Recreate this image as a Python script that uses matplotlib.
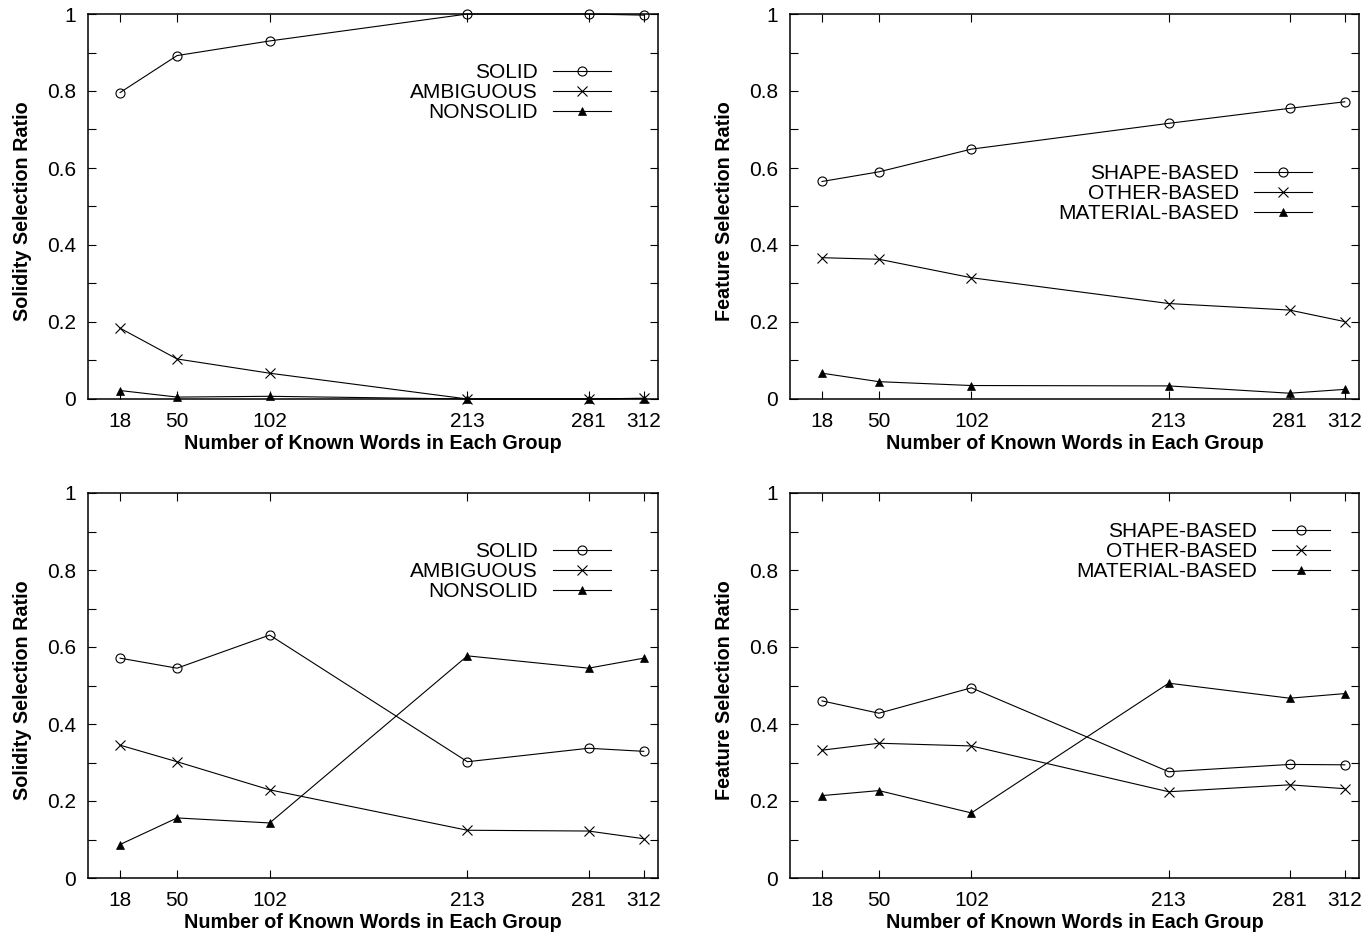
import numpy as np
import matplotlib
matplotlib.use("Agg")
import matplotlib.pyplot as plt
from matplotlib.ticker import MultipleLocator

plt.rcParams['font.family'] = ['Liberation Sans', 'DejaVu Sans']

# number of known words in each group
words = [18, 50, 102, 213, 281, 312]

# top left: solidity selection
solid_a = [0.796, 0.892, 0.930, 1.000, 1.000, 0.997]
ambig_a = [0.184, 0.104, 0.067, 0.000, 0.000, 0.002]
nonsolid_a = [0.022, 0.005, 0.007, 0.000, 0.000, 0.001]

# top right: feature selection
shape_a = [0.565, 0.590, 0.649, 0.716, 0.755, 0.772]
other_a = [0.367, 0.363, 0.315, 0.248, 0.231, 0.201]
material_a = [0.067, 0.045, 0.035, 0.034, 0.015, 0.025]

# bottom left: solidity selection
solid_b = [0.571, 0.545, 0.631, 0.302, 0.337, 0.329]
ambig_b = [0.345, 0.302, 0.229, 0.124, 0.122, 0.102]
nonsolid_b = [0.087, 0.156, 0.143, 0.577, 0.545, 0.571]

# bottom right: feature selection
shape_b = [0.460, 0.428, 0.494, 0.276, 0.295, 0.294]
other_b = [0.332, 0.350, 0.343, 0.224, 0.242, 0.232]
material_b = [0.214, 0.227, 0.169, 0.506, 0.467, 0.479]

solidity_names = ["SOLID", "AMBIGUOUS", "NONSOLID"]
feature_names = ["SHAPE-BASED", "OTHER-BASED", "MATERIAL-BASED"]

FS = 15
LFS = 14.2
W, H = 1371, 940
fig = plt.figure(figsize=(W / 100, H / 100), dpi=100)


def make_ax(left, top, right, bottom):
    return fig.add_axes([left / W, 1 - bottom / H, (right - left) / W, (bottom - top) / H])


def draw(ax, series, names, ylabel, leg_x, leg_y):
    styles = [dict(marker='o', mfc='none', ms=6.5, mew=0.8),
              dict(marker='x', ms=6.5, mew=0.8),
              dict(marker='^', ms=5.5, mew=0.5)]
    for ys, name, st in zip(series, names, styles):
        ax.plot(words, ys, color='black', lw=0.8, label=name, clip_on=False, **st)
    ax.set_xlim(0, 320)
    ax.set_ylim(0, 1)
    ax.set_xticks(words)
    ax.set_xticklabels([str(w) for w in words])
    ax.set_yticks([0, 0.2, 0.4, 0.6, 0.8, 1])
    ax.set_yticklabels(["0", "0.2", "0.4", "0.6", "0.8", "1"])
    ax.yaxis.set_minor_locator(MultipleLocator(0.1))
    ax.tick_params(which='both', direction='in', top=True, right=True,
                   length=6, width=0.8, labelsize=FS)
    ax.tick_params(axis='y', which='major', pad=8.6)
    ax.tick_params(axis='x', which='major', pad=9.5)
    for sp in ax.spines.values():
        sp.set_linewidth(1.1)
    ax.set_xlabel("Number of Known Words in Each Group", fontsize=LFS, fontweight='bold')
    ax.set_ylabel(ylabel, fontsize=LFS, fontweight='bold')
    ax.xaxis.set_label_coords(0.5, -0.091)
    ax.yaxis.set_label_coords(-0.098, 0.487)
    ax.legend(loc='center right', bbox_to_anchor=(leg_x, leg_y), frameon=False,
              markerfirst=False, fontsize=FS, handlelength=2.8, handletextpad=0.72,
              labelspacing=0.05, borderpad=0, borderaxespad=0, numpoints=1)


ax1 = make_ax(88, 14, 658, 399)
ax2 = make_ax(790, 14, 1359, 399)
ax3 = make_ax(88, 493, 658, 878)
ax4 = make_ax(790, 493, 1359, 878)

draw(ax1, [solid_a, ambig_a, nonsolid_a], solidity_names, "Solidity Selection Ratio", 0.918, 0.796)
draw(ax2, [shape_a, other_a, material_a], feature_names, "Feature Selection Ratio", 0.918, 0.534)
draw(ax3, [solid_b, ambig_b, nonsolid_b], solidity_names, "Solidity Selection Ratio", 0.918, 0.795)
draw(ax4, [shape_b, other_b, material_b], feature_names, "Feature Selection Ratio", 0.949, 0.847)

fig.savefig("out.png", dpi=100)
